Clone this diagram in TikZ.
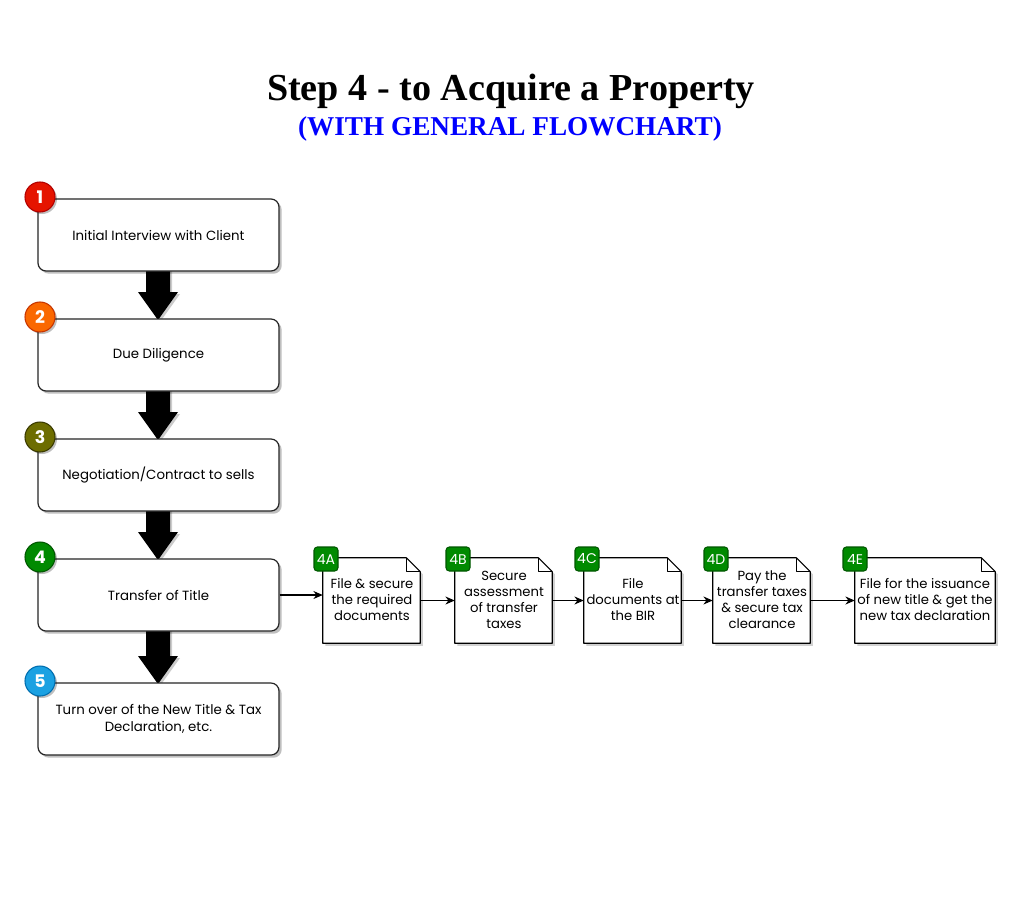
\documentclass[tikz,border=0pt]{standalone}
\usepackage{fontspec}
\setmainfont{Poppins}
\newfontfamily\titlefont{Liberation Serif}
\usetikzlibrary{shadows,arrows.meta}
\definecolor{cred}{HTML}{E51400}
\definecolor{credd}{HTML}{B20000}
\definecolor{corange}{HTML}{FA6800}
\definecolor{corangedd}{HTML}{C73500}
\definecolor{colive}{HTML}{6D6D00}
\definecolor{colivedd}{HTML}{3A3A00}
\definecolor{cgreen}{HTML}{008A00}
\definecolor{cgreendd}{HTML}{005700}
\definecolor{cblue}{HTML}{1BA1E2}
\definecolor{cbluedd}{HTML}{006EAF}
\definecolor{ctitleblue}{HTML}{0000FF}
\tikzset{
  mainbox/.style={draw=black!85, line width=0.9pt, fill=white, rounded corners=6pt,
    minimum width=180.75pt, minimum height=54pt, align=center,
    font=\fontsize{10pt}{12.75pt}\selectfont,
    drop shadow={shadow xshift=2pt, shadow yshift=-2pt, opacity=0.25, fill=black}},
  numbadge/.style={circle, line width=0.8pt, minimum size=22.5pt, inner sep=0pt,
    text=white, font=\bfseries\fontsize{13pt}{13pt}\selectfont,
    drop shadow={shadow xshift=1.5pt, shadow yshift=-1.5pt, opacity=0.25, fill=black}},
  docbox/.style={draw=none, minimum height=63.75pt, align=center, inner sep=1pt},
  doctext/.style={align=center, font=\fontsize{9.9pt}{12pt}\selectfont},
  docbadge/.style={draw=cgreendd, fill=cgreen, rounded corners=2.5pt, line width=0.8pt,
    minimum size=18pt, inner sep=0pt, text=white, font=\fontsize{10.5pt}{10.5pt}\selectfont},
  thinarrow/.style={-{Stealth[length=7pt,width=6pt]}, line width=0.8pt},
  bigarrow/.style={fill=black, draw=none,
    drop shadow={shadow xshift=1.5pt, shadow yshift=-1.5pt, opacity=0.2, fill=black}},
}
\newcommand{\docoutline}[1]{%
  \fill[black, opacity=0.18] ([shift={(2pt,-2pt)}]#1.south west) -- ([shift={(2pt,-2pt)}]#1.north west) -- ([shift={(-8.5pt,-2pt)}]#1.north east) -- ([shift={(2pt,-12.5pt)}]#1.north east) -- ([shift={(2pt,-2pt)}]#1.south east) -- cycle;
  \draw[line width=0.8pt, fill=white, line join=round] (#1.south west) -- (#1.north west) -- ([xshift=-10.5pt]#1.north east) -- ([yshift=-10.5pt]#1.north east) -- (#1.south east) -- cycle;
  \draw[line width=0.8pt, line join=round] ([xshift=-10.5pt]#1.north east) -- ([shift={(-10.5pt,-10.5pt)}]#1.north east) -- ([yshift=-10.5pt]#1.north east);
}
\newcommand{\bigdown}[3]{% x, ytop, ytip in px
  \fill[bigarrow] (#1-12,#2) -- (#1+12,#2) -- (#1+12,#3-28) -- (#1+20,#3-28) -- (#1,#3) -- (#1-20,#3-28) -- (#1-12,#3-28) -- cycle;
}
\begin{document}
\begin{tikzpicture}[x=0.75pt,y=-0.75pt]
\useasboundingbox (0,0) rectangle (1024,915);
\fill[white] (0,0) rectangle (1024,915);

% title
\node (title) at (511,91) {\titlefont\bfseries\fontsize{28.6pt}{31pt}\selectfont Step 4 - to Acquire a Property};
\node[text=ctitleblue] (subtitle) at (510,129) {\titlefont\bfseries\fontsize{20.4pt}{24pt}\selectfont (WITH GENERAL FLOWCHART)};

% big arrows (drawn first, boxes above)
\bigdown{158}{268}{320}
\bigdown{158}{388}{440}
\bigdown{158}{508}{560}
\bigdown{158}{628}{684}

% main boxes
\node[mainbox] (b1) at (158.5,235) {Initial Interview with Client};
\node[mainbox] (b2) at (158.5,355) {Due Diligence};
\node[mainbox] (b3) at (158.5,475) {Negotiation/Contract to sells};
\node[mainbox] (b4) at (158.5,595) {Transfer of Title};
\node[mainbox] (b5) at (158.5,719) {Turn over of the New Title \& Tax\\Declaration, etc.};

% number badges
\node[numbadge, fill=cred, draw=credd] (n1) at (40,197) {1};
\node[numbadge, fill=corange, draw=corangedd] (n2) at (40,317) {2};
\node[numbadge, fill=colive, draw=colivedd] (n3) at (40,437) {3};
\node[numbadge, fill=cgreen, draw=cgreendd] (n4) at (40,557) {4};
\node[numbadge, fill=cblue, draw=cbluedd] (n5) at (40,681) {5};

% document boxes
\node[docbox, minimum width=72.75pt] (d1) at (371.5,600.5) {};
\node[docbox, minimum width=72.75pt] (d2) at (503.5,600.5) {};
\node[docbox, minimum width=72.75pt] (d3) at (632.5,600.5) {};
\node[docbox, minimum width=72.75pt] (d4) at (761.5,600.5) {};
\node[docbox, minimum width=105pt] (d5) at (925,600.5) {};
\docoutline{d1}
\docoutline{d2}
\docoutline{d3}
\docoutline{d4}
\docoutline{d5}
\node[doctext] (t1) at (372,600) {File \& secure\\the required\\documents};
\node[doctext] (t2) at (504,600) {Secure\\assessment\\of transfer\\taxes};
\node[doctext] (t3) at (633,600) {File\\documents at\\the BIR};
\node[doctext] (t4) at (762,600) {Pay the\\transfer taxes\\\& secure tax\\clearance};
\node[doctext] (t5) at (925,600) {File for the issuance\\of new title \& get the\\new tax declaration};

% doc badges
\node[docbadge] (a1) at (326,559) {4A};
\node[docbadge] (a2) at (458,559) {4B};
\node[docbadge] (a3) at (587,559) {4C};
\node[docbadge] (a4) at (716,559) {4D};
\node[docbadge] (a5) at (855,559) {4E};

% connectors
\draw[thinarrow] (b4.east) -- (b4.east -| d1.west);
\draw[thinarrow] (d1.east) -- (d2.west);
\draw[thinarrow] (d2.east) -- (d3.west);
\draw[thinarrow] (d3.east) -- (d4.west);
\draw[thinarrow] (d4.east) -- (d5.west);
\end{tikzpicture}
\end{document}
